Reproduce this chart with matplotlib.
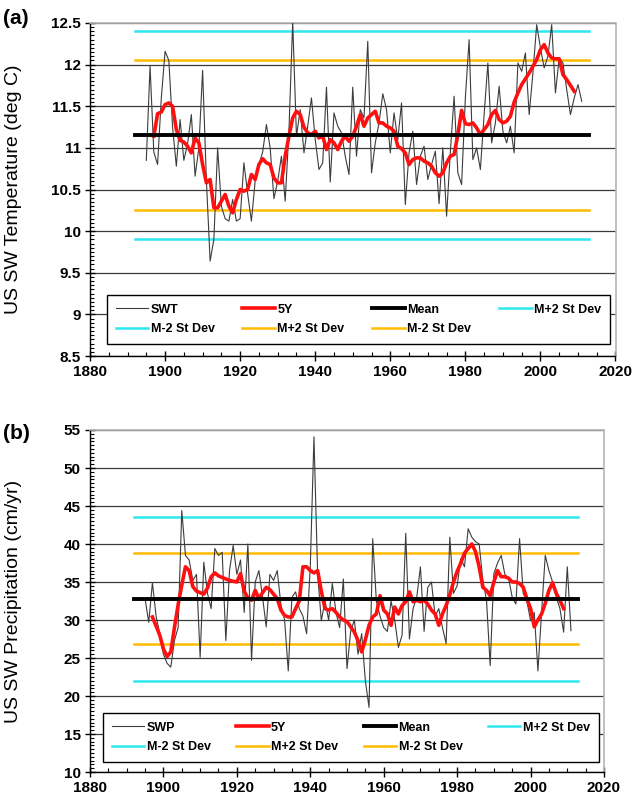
import numpy as np
import matplotlib
matplotlib.use('Agg')
import matplotlib.pyplot as plt
from matplotlib.ticker import MultipleLocator, FormatStrFormatter

plt.rcParams['font.family'] = ['Liberation Sans', 'DejaVu Sans']

# %%
# US SW annual temperature (deg C), 1895-2011
swt = [
    10.85, 11.98, 10.95, 10.80, 11.60, 12.16, 12.05, 11.25, 10.78, 11.34,
    10.85, 11.05, 11.40, 10.66, 11.00, 11.93, 10.62, 9.64, 9.90, 11.00,
    10.30, 10.15, 10.12, 10.38, 10.12, 10.15, 10.82, 10.45, 10.12, 10.60,
    10.80, 10.95, 11.28, 11.00, 10.39, 10.60, 10.90, 10.36, 11.20, 12.52,
    11.14, 11.46, 10.94, 11.26, 11.60, 11.10, 10.74, 10.82, 11.73, 10.59,
    11.42, 11.26, 11.18, 10.90, 10.68, 11.73, 10.90, 11.46, 11.36, 12.28,
    10.70, 11.06, 11.30, 11.65, 11.46, 10.94, 11.42, 11.10, 11.54, 10.32,
    10.94, 11.20, 10.56, 10.90, 11.02, 10.62, 10.80, 10.96, 10.33, 11.00,
    10.18, 10.95, 11.62, 10.70, 10.56, 11.60, 12.30, 10.86, 11.00, 10.74,
    11.40, 12.02, 11.06, 11.30, 11.74, 11.20, 11.06, 11.26, 10.94, 12.02,
    11.92, 12.14, 11.40, 11.90, 12.48, 12.20, 11.96, 12.10, 12.48, 11.66,
    12.08, 12.02, 11.70, 11.40, 11.60, 11.76, 11.56,
]
# 5-year running mean as drawn, 1897-2009
swt_5y = [
    11.14, 11.41, 11.43, 11.52, 11.54, 11.50, 11.22, 11.09, 11.07, 11.02,
    10.94, 11.12, 11.06, 10.80, 10.58, 10.62, 10.28, 10.28, 10.36, 10.44,
    10.30, 10.22, 10.38, 10.50, 10.48, 10.50, 10.68, 10.62, 10.80, 10.87,
    10.82, 10.80, 10.64, 10.58, 10.58, 10.90, 11.14, 11.36, 11.44, 11.40,
    11.25, 11.18, 11.16, 11.20, 11.12, 11.14, 10.98, 11.10, 11.06, 10.98,
    11.08, 11.14, 11.08, 11.14, 11.26, 11.40, 11.26, 11.36, 11.40, 11.44,
    11.30, 11.30, 11.26, 11.24, 11.20, 11.02, 10.99, 10.94, 10.80, 10.86,
    10.88, 10.88, 10.84, 10.82, 10.78, 10.70, 10.66, 10.70, 10.82, 10.90,
    10.92, 11.16, 11.45, 11.29, 11.28, 11.30, 11.24, 11.16, 11.22, 11.28,
    11.40, 11.45, 11.34, 11.30, 11.32, 11.38, 11.55, 11.66, 11.76, 11.83,
    11.90, 11.98, 12.06, 12.18, 12.24, 12.14, 12.08, 12.07, 12.07, 11.88,
    11.82, 11.75, 11.68,
]
# mean, +2sd, -2sd levels (cyan pair, orange pair)
swt_levels = {'mean': 11.15, 'cyan_hi': 12.40, 'cyan_lo': 9.91,
              'orange_hi': 12.05, 'orange_lo': 10.25}

# US SW annual precipitation (cm/yr), 1895-2011
swp = [
    32.8, 29.7, 34.9, 30.5, 28.2, 25.5, 24.3, 23.8, 27.3, 29.0,
    44.4, 38.5, 37.9, 35.2, 36.0, 25.1, 37.6, 33.5, 31.5, 39.4,
    38.5, 38.9, 27.3, 36.5, 39.8, 36.0, 37.9, 31.0, 40.0, 24.7,
    35.0, 36.5, 33.0, 29.1, 36.0, 35.2, 36.5, 32.0, 30.0, 23.3,
    33.0, 33.7, 31.5, 30.5, 28.2, 37.0, 54.1, 36.1, 29.9, 32.5,
    30.0, 34.8, 31.0, 29.0, 35.4, 23.6, 28.5, 30.0, 25.5, 28.2,
    22.0, 18.5, 40.7, 32.5, 30.5, 29.0, 28.5, 32.5, 30.0, 26.4,
    28.0, 41.4, 27.5, 31.5, 33.0, 37.0, 28.5, 34.3, 35.0, 30.5,
    31.5, 29.0, 26.9, 40.9, 33.5, 34.5, 38.1, 37.0, 42.0, 40.9,
    40.3, 40.0, 35.2, 32.6, 24.0, 36.1, 37.5, 38.5, 36.0, 35.5,
    33.0, 32.1, 40.7, 33.5, 32.5, 29.9, 31.0, 23.3, 31.0, 38.5,
    36.5, 35.0, 33.0, 31.5, 28.4, 37.0, 28.6,
]
swp_5y = [
    30.4, 29.2, 28.0, 26.2, 25.2, 25.8, 29.0, 32.0, 34.6, 37.0,
    36.5, 34.4, 33.8, 33.6, 33.4, 34.2, 35.7, 36.2, 35.8, 35.6,
    35.4, 35.2, 35.1, 35.0, 36.1, 33.8, 32.9, 32.6, 33.9, 32.8,
    33.6, 34.3, 34.0, 33.4, 32.8, 31.3, 30.6, 30.4, 30.4, 31.5,
    32.5, 37.0, 37.0, 36.5, 36.2, 36.5, 33.8, 31.5, 31.3, 31.5,
    31.0, 30.4, 30.0, 29.8, 29.1, 28.4, 27.3, 25.8, 27.4, 29.3,
    30.4, 30.8, 33.2, 31.3, 30.8, 29.3, 31.7, 30.8, 31.9, 32.4,
    33.7, 32.4, 32.6, 32.4, 32.6, 32.1, 31.3, 30.8, 29.3, 30.8,
    31.9, 33.3, 35.0, 36.4, 37.5, 38.8, 39.4, 40.0, 39.0, 37.0,
    34.3, 33.9, 33.2, 35.0, 36.5, 35.7, 35.7, 35.5, 35.0, 35.0,
    34.8, 34.3, 32.8, 31.5, 29.1, 30.0, 30.8, 32.2, 33.9, 34.9,
    33.5, 32.6, 31.5,
]
swp_levels = {'mean': 32.8, 'cyan_hi': 43.5, 'cyan_lo': 22.0,
              'orange_hi': 38.8, 'orange_lo': 26.9}

years = np.arange(1895, 1895 + len(swt))
years_5y = np.arange(1897, 1897 + len(swt_5y))
line_span = (1892, 2013)

CYAN = '#2ee8f0'
ORANGE = '#ffbb00'


def draw_panel(ax, raw, smooth, levels, raw_label, ylim, ymajor, yminor,
               ylabel, leg_box):
    ax.plot(years, raw, color='#3c3c3c', lw=0.8, label=raw_label, zorder=3)
    ax.plot(years_5y, smooth, color='#ff1010', lw=2.6, label='5Y', zorder=4)
    h_mean, = ax.plot(line_span, [levels['mean']] * 2, color='black', lw=2.8,
                      label='Mean', zorder=5)
    h_c1, = ax.plot(line_span, [levels['cyan_hi']] * 2, color=CYAN, lw=1.8,
                    label='M+2 St Dev', zorder=2)
    h_c2, = ax.plot(line_span, [levels['cyan_lo']] * 2, color=CYAN, lw=1.8,
                    label='M-2 St Dev', zorder=2)
    h_o1, = ax.plot(line_span, [levels['orange_hi']] * 2, color=ORANGE, lw=1.8,
                    label='M+2 St Dev', zorder=2)
    h_o2, = ax.plot(line_span, [levels['orange_lo']] * 2, color=ORANGE, lw=1.8,
                    label='M-2 St Dev', zorder=2)

    ax.set_xlim(1880, 2020)
    ax.set_ylim(*ylim)
    ax.xaxis.set_major_locator(MultipleLocator(20))
    ax.xaxis.set_minor_locator(MultipleLocator(5))
    ax.yaxis.set_major_locator(MultipleLocator(ymajor))
    ax.yaxis.set_minor_locator(MultipleLocator(yminor))
    ax.yaxis.set_major_formatter(FormatStrFormatter('%g'))
    ax.grid(axis='y', which='major', color='#3a3a3a', lw=0.9, zorder=1)
    ax.set_axisbelow(True)

    ax.tick_params(which='major', direction='inout', length=7, width=1,
                   labelsize=11, pad=3)
    ax.tick_params(which='minor', direction='in', length=3, width=0.8)
    for lab in ax.get_xticklabels() + ax.get_yticklabels():
        lab.set_fontweight('bold')
    for s in ['top', 'right']:
        ax.spines[s].set_color('#b5b5b5')
        ax.spines[s].set_linewidth(1.2)
    for s in ['left', 'bottom']:
        ax.spines[s].set_linewidth(1.0)

    ax.set_ylabel(ylabel, fontsize=14)

    lines = ax.get_lines()
    handles = [lines[0], h_c2, lines[1], h_o1, h_mean, h_o2, h_c1]
    leg = ax.legend(handles, [h.get_label() for h in handles], ncol=4,
                    loc='lower left', bbox_to_anchor=leg_box, mode='expand',
                    borderaxespad=0, fancybox=False, framealpha=1,
                    edgecolor='black', handlelength=2.6, handletextpad=0.2,
                    prop={'weight': 'bold', 'size': 9},
                    borderpad=0.7, labelspacing=0.6)
    leg.get_frame().set_linewidth(1.0)
    leg.set_zorder(10)


fig = plt.figure(figsize=(6.33, 7.98), dpi=100)
W, H = 633, 798
ax1 = fig.add_axes([90 / W, (H - 356) / H, 525.5 / W, 333 / H])
ax2 = fig.add_axes([90 / W, (H - 772) / H, 514 / W, 342 / H])

draw_panel(ax1, swt, swt_5y, swt_levels, 'SWT', (8.5, 12.5), 0.5, 0.05,
           'US SW Temperature (deg C)', (0.032, 0.036, 0.958, 0.17))
draw_panel(ax2, swp, swp_5y, swp_levels, 'SWP', (10, 55), 5, 0.5,
           'US SW Precipitation (cm/yr)', (0.025, 0.029, 0.965, 0.14))

ax1.yaxis.set_label_coords(-(90 - 22) / 525.5, 0.5)
ax2.yaxis.set_label_coords(-(90 - 22) / 514, 0.5)

fig.text(3 / W, 1 - 18 / H, '(a)', fontsize=15, fontweight='bold', va='center')
fig.text(3 / W, 1 - 433 / H, '(b)', fontsize=15, fontweight='bold', va='center')

fig.savefig('out.png', dpi=100)
